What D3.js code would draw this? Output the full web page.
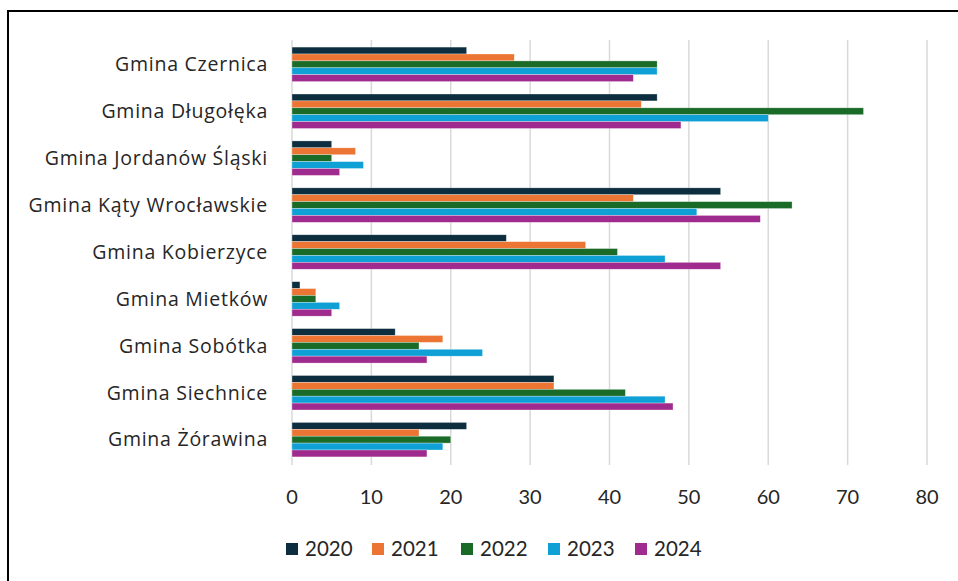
<!DOCTYPE html>
<html>
<head>
<meta charset="utf-8">
<script src="https://cdn.jsdelivr.net/npm/d3@7"></script>
<style>
  body { margin: 0; background: #fff; }
  svg { display: block; font-family: Lato, "Open Sans", sans-serif; }
</style>
</head>
<body>
<svg width="958" height="581"></svg>
<script>
var gminy = ["Gmina Czernica", "Gmina Długołęka", "Gmina Jordanów Śląski", "Gmina Kąty Wrocławskie",
    "Gmina Kobierzyce", "Gmina Mietków", "Gmina Sobótka", "Gmina Siechnice", "Gmina Żórawina"];
var years = ["2020", "2021", "2022", "2023", "2024"];
var v2020 = [22, 46, 5, 54, 27, 1, 13, 33, 22];
var v2021 = [28, 44, 8, 43, 37, 3, 19, 33, 16];
var v2022 = [46, 72, 5, 63, 41, 3, 16, 42, 20];
var v2023 = [46, 60, 9, 51, 47, 6, 24, 47, 19];
var v2024 = [43, 49, 6, 59, 54, 5, 17, 48, 17];
var ticks = [0, 10, 20, 30, 40, 50, 60, 70, 80];
var colors = ["#0d2e3f", "#ec7533", "#1b6b28", "#0fa0d6", "#9f2b8f"];

var series = [v2020, v2021, v2022, v2023, v2024];

var svg = d3.select("svg");

// frame
svg.append("rect")
    .attr("x", 8).attr("y", 11)
    .attr("width", 980).attr("height", 600)
    .attr("fill", "none").attr("stroke", "#000").attr("stroke-width", 2);

var plotLeft = 292, plotRight = 927, plotTop = 41, plotBottom = 463;

var x = d3.scaleLinear().domain([0, 80]).range([plotLeft, plotRight]);
var y = d3.scaleBand().domain(gminy).range([plotTop, plotBottom]).paddingInner(0.265).paddingOuter(0.13);
var yIn = d3.scaleBand().domain(years).range([0, y.bandwidth()]);

// gridlines
svg.append("g").selectAll("line")
    .data(ticks).enter()
    .append("line")
    .attr("x1", function(d) { return x(d); })
    .attr("x2", function(d) { return x(d); })
    .attr("y1", 40).attr("y2", 465)
    .attr("stroke", "#d9d9d9").attr("stroke-width", 1.5);

// bars
var groups = svg.append("g").selectAll("g")
    .data(gminy).enter()
    .append("g")
    .attr("transform", function(d) { return "translate(0," + y(d) + ")"; });

groups.selectAll("rect")
    .data(function(d, i) {
        return years.map(function(yr, j) { return { year: yr, value: series[j][i], idx: j }; });
    }).enter()
    .append("rect")
    .attr("x", x(0))
    .attr("y", function(d) { return yIn(d.year); })
    .attr("width", function(d) { return x(d.value) - x(0); })
    .attr("height", yIn.bandwidth())
    .attr("fill", function(d) { return colors[d.idx]; })
    .attr("stroke", "#fff").attr("stroke-opacity", 0.5).attr("stroke-width", 0.6);

// category labels
svg.append("g").selectAll("text")
    .data(gminy).enter()
    .append("text")
    .attr("x", 268)
    .attr("y", function(d) { return y(d) + y.bandwidth() / 2; })
    .attr("dy", "0.35em")
    .attr("text-anchor", "end")
    .attr("font-family", "'Open Sans', sans-serif")
    .attr("font-size", 19.5)
    .attr("letter-spacing", 0.75)
    .attr("fill", "#262626")
    .text(function(d) { return d; });

// x tick labels
svg.append("g").selectAll("text")
    .data(ticks).enter()
    .append("text")
    .attr("x", function(d) { return x(d); })
    .attr("y", 497)
    .attr("dy", "0.35em")
    .attr("text-anchor", "middle")
    .attr("font-size", 20)
    .attr("fill", "#262626")
    .text(function(d) { return d; });

// legend
var legendX = [286, 372, 461, 548, 635];
var legend = svg.append("g").selectAll("g")
    .data(years).enter()
    .append("g")
    .attr("transform", function(d, i) { return "translate(" + legendX[i] + ",549)"; });
legend.append("rect")
    .attr("x", 0).attr("y", -6)
    .attr("width", 12).attr("height", 12)
    .attr("fill", function(d, i) { return colors[i]; });
legend.append("text")
    .attr("x", 19).attr("y", 0).attr("dy", "0.35em")
    .attr("font-size", 20.5)
    .attr("fill", "#262626")
    .text(function(d) { return d; });
</script>
</body>
</html>
